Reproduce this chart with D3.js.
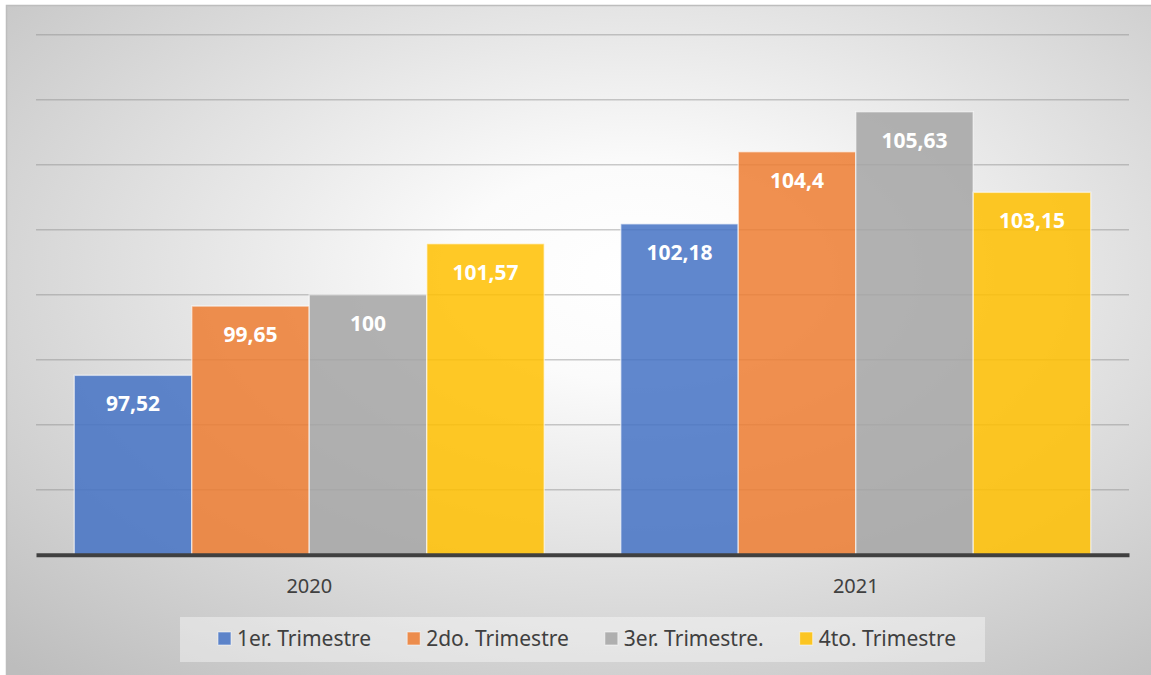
<!DOCTYPE html>
<html>
<head>
<meta charset="utf-8">
<script src="https://cdn.jsdelivr.net/npm/d3@7"></script>
<style>
  body { margin: 0; background: #fff; }
  svg { display: block; }
</style>
</head>
<body>
<svg id="chart" width="1151" height="675"></svg>
<script>
// data
var years = ["2020", "2021"];
var quarters = ["1er. Trimestre", "2do. Trimestre", "3er. Trimestre.", "4to. Trimestre"];
var q1 = [97.52, 102.18];
var q2 = [99.65, 104.4];
var q3 = [100, 105.63];
var q4 = [101.57, 103.15];
var yTicks = [92, 94, 96, 98, 100, 102, 104, 106, 108];

var colors = ["#4472C4", "#ED7D31", "#A5A5A5", "#FFC000"];
var series = [q1, q2, q3, q4];

var svg = d3.select("#chart"),
    margin = {top: 34.7, right: 22, bottom: 120.3, left: 36},
    width = +svg.attr("width") - margin.left - margin.right,
    height = +svg.attr("height") - margin.top - margin.bottom;

// background gradient
var defs = svg.append("defs");
var grad = defs.append("radialGradient")
    .attr("id", "bg")
    .attr("cx", 0.55).attr("cy", 0.4).attr("r", 0.8);
grad.append("stop").attr("offset", "0").attr("stop-color", "#ffffff");
grad.append("stop").attr("offset", "0.2").attr("stop-color", "#fbfbfb");
grad.append("stop").attr("offset", "1").attr("stop-color", "#bdbdbd");

svg.append("rect")
    .attr("x", 6).attr("y", 5)
    .attr("width", 1151 - 6).attr("height", 675 - 5)
    .attr("fill", "url(#bg)");
svg.append("path")
    .attr("d", "M6.5,675V5.5H1151")
    .attr("fill", "none")
    .attr("stroke", "#bdbdbd")
    .attr("stroke-width", 1.5);

var g = svg.append("g").attr("transform", "translate(" + margin.left + "," + margin.top + ")");

var x0 = d3.scaleBand()
    .domain(years)
    .range([0, width])
    .paddingInner(0.14)
    .paddingOuter(0.07);

var x1 = d3.scaleBand()
    .domain(d3.range(quarters.length))
    .range([0, x0.bandwidth()]);

var y = d3.scaleLinear()
    .domain([92, 108])
    .range([height, 0]);

// gridlines
g.append("g")
    .attr("class", "grid")
    .selectAll("line")
    .data(yTicks.slice(1))
    .enter().append("line")
    .attr("x1", 0).attr("x2", width)
    .attr("y1", function(d) { return y(d); })
    .attr("y2", function(d) { return y(d); })
    .attr("stroke", "#8c8c8c")
    .attr("stroke-opacity", 0.45)
    .attr("stroke-width", 1.5);

// bars
var groups = g.selectAll(".year")
    .data(years)
    .enter().append("g")
    .attr("class", "year")
    .attr("transform", function(d) { return "translate(" + x0(d) + ",0)"; });

groups.selectAll("rect")
    .data(function(d, i) { return series.map(function(s, k) { return {k: k, v: s[i]}; }); })
    .enter().append("rect")
    .attr("x", function(d) { return x1(d.k); })
    .attr("y", function(d) { return y(d.v); })
    .attr("width", x1.bandwidth())
    .attr("height", function(d) { return y(92) - y(d.v); })
    .attr("fill", function(d) { return colors[d.k]; })
    .attr("fill-opacity", 0.85)
    .attr("stroke", "#ffffff")
    .attr("stroke-opacity", 0.55)
    .attr("stroke-width", 1.5);

groups.selectAll(".val")
    .data(function(d, i) { return series.map(function(s, k) { return {k: k, v: s[i]}; }); })
    .enter().append("text")
    .attr("class", "val")
    .attr("x", function(d) { return x1(d.k) + x1.bandwidth() / 2; })
    .attr("y", function(d) { return y(d.v) + 36; })
    .attr("text-anchor", "middle")
    .attr("fill", "#ffffff")
    .style("font", "bold 21px 'Noto Sans', sans-serif")
    .text(function(d) { return String(d.v).replace(".", ","); });

// x axis
var xAxis = g.append("g")
    .attr("class", "axis")
    .attr("transform", "translate(0," + height + ")")
    .call(d3.axisBottom(x0).tickSize(0).tickPadding(0));
xAxis.select(".domain")
    .attr("stroke", "#404040")
    .attr("stroke-width", 4);
xAxis.selectAll("text")
    .attr("fill", "#404040")
    .attr("dy", 0)
    .attr("y", 38)
    .style("font", "20px 'Noto Sans', sans-serif");

// legend
var legend = svg.append("g").attr("class", "legend");
legend.append("rect")
    .attr("x", 180).attr("y", 617)
    .attr("width", 805).attr("height", 45)
    .attr("fill", "#ffffff")
    .attr("fill-opacity", 0.4);

var items = legend.selectAll(".item")
    .data(quarters)
    .enter().append("g")
    .attr("class", "item");

items.append("rect")
    .attr("width", 13).attr("height", 13)
    .attr("y", 632)
    .attr("fill", function(d, i) { return colors[i]; })
    .attr("fill-opacity", 0.85)
    .attr("stroke", "#ffffff")
    .attr("stroke-opacity", 0.55);

items.append("text")
    .attr("y", 646)
    .attr("fill", "#404040")
    .style("font", "21px 'Noto Sans', sans-serif")
    .text(function(d) { return d; });

var widths = [];
items.select("text").each(function() { widths.push(this.getComputedTextLength()); });
var total = d3.sum(widths) + quarters.length * 19 + (quarters.length - 1) * 36;
var cx = 587 - total / 2;
items.each(function(d, i) {
    var it = d3.select(this);
    it.select("rect").attr("x", cx);
    it.select("text").attr("x", cx + 19);
    cx += 19 + widths[i] + 36;
});
</script>
</body>
</html>
